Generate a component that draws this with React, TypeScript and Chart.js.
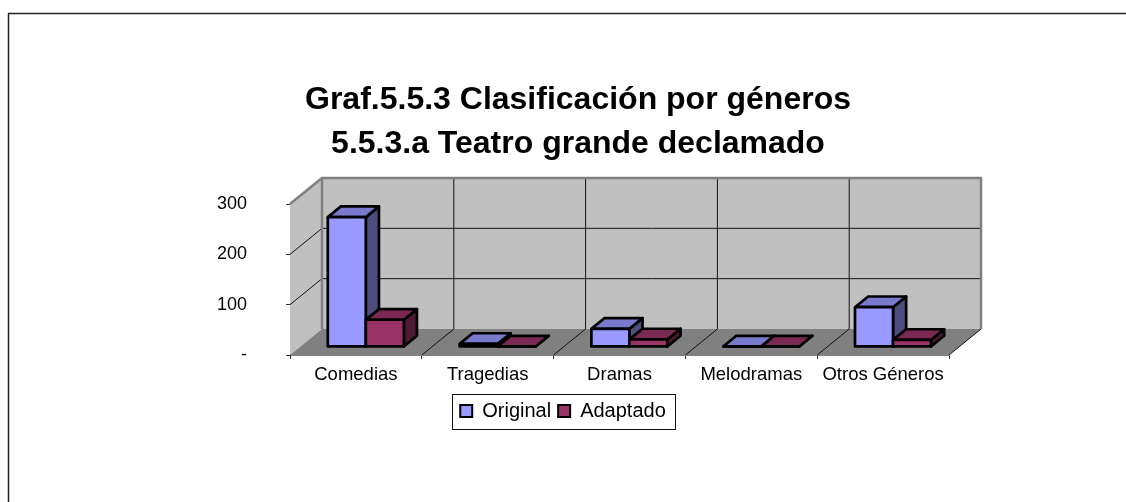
import React, { useEffect, useRef } from "react";
import { Chart, registerables } from "chart.js";

Chart.register(...registerables);

const categories = ["Comedias", "Tragedias", "Dramas", "Melodramas", "Otros Géneros"];
const original = [258, 6, 36, 1, 79];
const adaptado = [54, 1, 15, 1, 14];
const titleLines = ["Graf.5.5.3 Clasificación por géneros", "5.5.3.a Teatro grande declamado"];
const frontColors = ["#9999FF", "#993366"];
const topColors = ["#7A7ACC", "#7A2952"];
const sideColors = ["#4D4D80", "#4D1A33"];
const FONT = "'Liberation Sans', Arial, sans-serif";
const DEPTH_X = 32;
const DEPTH_Y = -26;
const BAR_NEAR = 0.31;
const BAR_DEPTH = 0.41;
const EDGE = 2.7;

function poly(ctx: CanvasRenderingContext2D, pts: number[][], fill: string | null, stroke: string | null, lw = 1) {
  ctx.beginPath();
  pts.forEach((p, i) => (i ? ctx.lineTo(p[0], p[1]) : ctx.moveTo(p[0], p[1])));
  if (fill) {
    ctx.closePath();
    ctx.fillStyle = fill;
    ctx.fill();
  }
  if (stroke) {
    ctx.strokeStyle = stroke;
    ctx.lineWidth = lw;
    ctx.lineJoin = "round";
    ctx.stroke();
  }
}

const scene3d = {
  id: "scene3d",
  afterLayout(chart: any) {
    chart.titleBlock.left += 30;
  },
  beforeDraw(chart: any) {
    const ctx = chart.ctx as CanvasRenderingContext2D;
    ctx.save();
    ctx.fillStyle = "#ffffff";
    ctx.fillRect(0, 0, chart.width, chart.height);
    poly(ctx, [[8.5, chart.height], [8.5, 13.5], [chart.width, 13.5]], null, "#222222", 1.5);
    ctx.restore();
  },
  beforeDatasetsDraw(chart: any) {
    const ctx = chart.ctx as CanvasRenderingContext2D;
    const { left, right, top, bottom } = chart.chartArea;
    const dx = DEPTH_X;
    const dy = DEPTH_Y;
    const xs = chart.scales.x;
    const ys = chart.scales.y;
    ctx.save();
    poly(ctx, [[left + dx, top + dy], [right + dx, top + dy], [right + dx, bottom + dy], [left + dx, bottom + dy]], "#C0C0C0", null);
    poly(ctx, [[left, top], [left + dx, top + dy], [left + dx, bottom + dy], [left, bottom]], "#C0C0C0", null);
    poly(ctx, [[left, bottom], [left + dx, bottom + dy], [right + dx, bottom + dy], [right, bottom]], "#808080", null);
    ys.ticks.forEach((t: any) => {
      if (t.value === 0 || t.value === 300) return;
      const y = ys.getPixelForValue(t.value);
      poly(ctx, [[left, y], [left + dx, y + dy], [right + dx, y + dy]], null, "#111111", 1);
    });
    for (let i = 1; i < categories.length; i++) {
      const x = (xs.getPixelForValue(i - 1) + xs.getPixelForValue(i)) / 2;
      poly(ctx, [[x, bottom], [x + dx, bottom + dy], [x + dx, top + dy]], null, "#111111", 1);
    }
    poly(ctx, [[left, top], [left + dx, top + dy], [right + dx, top + dy], [right + dx, bottom + dy]], null, "#808080", 2.5);
    poly(ctx, [[left + dx, top + dy], [left + dx, bottom + dy]], null, "#808080", 2.5);
    poly(ctx, [[right, bottom], [right + dx, bottom + dy]], null, "#111111", 1);

    ctx.translate(dx * BAR_NEAR, dy * BAR_NEAR);
    const bx = dx * BAR_DEPTH;
    const by = dy * BAR_DEPTH;
    [0, 1].forEach((di) => {
      const meta = chart.getDatasetMeta(di);
      meta.data.forEach((bar: any) => {
        const x0 = bar.x - bar.width / 2;
        const x1 = bar.x + bar.width / 2;
        poly(ctx, [[x1, bar.y], [x1 + bx, bar.y + by], [x1 + bx, bar.base + by], [x1, bar.base]], sideColors[di], "#000000", EDGE);
        poly(ctx, [[x0, bar.y], [x0 + bx, bar.y + by], [x1 + bx, bar.y + by], [x1, bar.y]], topColors[di], "#000000", EDGE);
      });
      meta.controller.draw();
      meta.data.forEach((bar: any) => {
        const x0 = bar.x - bar.width / 2;
        const x1 = bar.x + bar.width / 2;
        poly(ctx, [[x0, bar.y], [x1, bar.y], [x1, bar.base], [x0, bar.base], [x0, bar.y]], null, "#000000", EDGE);
      });
    });
    ctx.restore();
    return false;
  },
  afterDraw(chart: any) {
    const ctx = chart.ctx as CanvasRenderingContext2D;
    const boxes = chart.legend.legendHitBoxes;
    const last = boxes[boxes.length - 1];
    const l = boxes[0].left - 8.5;
    const r = last.left + last.width + 8.5;
    ctx.save();
    ctx.strokeStyle = "#111111";
    ctx.lineWidth = 1;
    ctx.strokeRect(Math.round(l) + 0.5, Math.round(chart.legend.top) + 0.5, Math.round(r - l), 35);
    ctx.restore();
  },
};

export default function App() {
  const ref = useRef<HTMLCanvasElement | null>(null);
  useEffect(() => {
    const chart = new Chart(ref.current as HTMLCanvasElement, {
      type: "bar",
      data: {
        labels: categories,
        datasets: [
          { label: "Original", data: original, backgroundColor: frontColors[0], borderWidth: 0 },
          { label: "Adaptado", data: adaptado, backgroundColor: frontColors[1], borderWidth: 0 },
        ],
      },
      options: {
        responsive: false,
        animation: false,
        layout: { padding: { left: 177, right: 177, top: 0, bottom: 71 } },
        datasets: { bar: { categoryPercentage: 0.577, barPercentage: 1 } },
        scales: {
          x: {
            afterFit(s: any) { s.height = 39; },
            grid: { drawOnChartArea: false, drawTicks: true, tickLength: 4, color: "#333333" },
            border: { color: "#808080", width: 1 },
            ticks: { color: "#000000", padding: 5, maxRotation: 0, autoSkip: false, font: { family: FONT, size: 18.5 } },
          },
          y: {
            min: 0,
            max: 300,
            afterFit(s: any) { s.width = 113; },
            grid: { drawOnChartArea: false, drawTicks: true, tickLength: 4, color: "#333333" },
            border: { color: "#222222", width: 1 },
            ticks: {
              stepSize: 100,
              color: "#000000",
              padding: 39,
              font: { family: FONT, size: 18 },
              callback: (v: any) => (v === 0 ? "-" : String(v)),
            },
          },
        },
        plugins: {
          title: {
            display: true,
            text: titleLines,
            color: "#000000",
            font: { family: FONT, size: 32, weight: "bold", lineHeight: 1.35 },
            padding: { top: 79, bottom: 38.6 },
          },
          legend: {
            position: "bottom",
            labels: {
              color: "#000000",
              boxWidth: 12,
              boxHeight: 12,
              padding: 7,
              font: { family: FONT, size: 20, lineHeight: 1 },
              generateLabels: (c: any) =>
                Chart.defaults.plugins.legend.labels.generateLabels(c).map((it: any) => ({
                  ...it,
                  lineWidth: 2,
                  strokeStyle: "#000000",
                })),
            },
          },
          tooltip: { enabled: false },
        },
      } as any,
      plugins: [scene3d as any],
    });
    return () => chart.destroy();
  }, []);
  return (
    <div style={{ position: "absolute", left: 0, top: 0, width: 1126, height: 502 }}>
      <canvas ref={ref} width={1126} height={502} style={{ display: "block" }} />
    </div>
  );
}
